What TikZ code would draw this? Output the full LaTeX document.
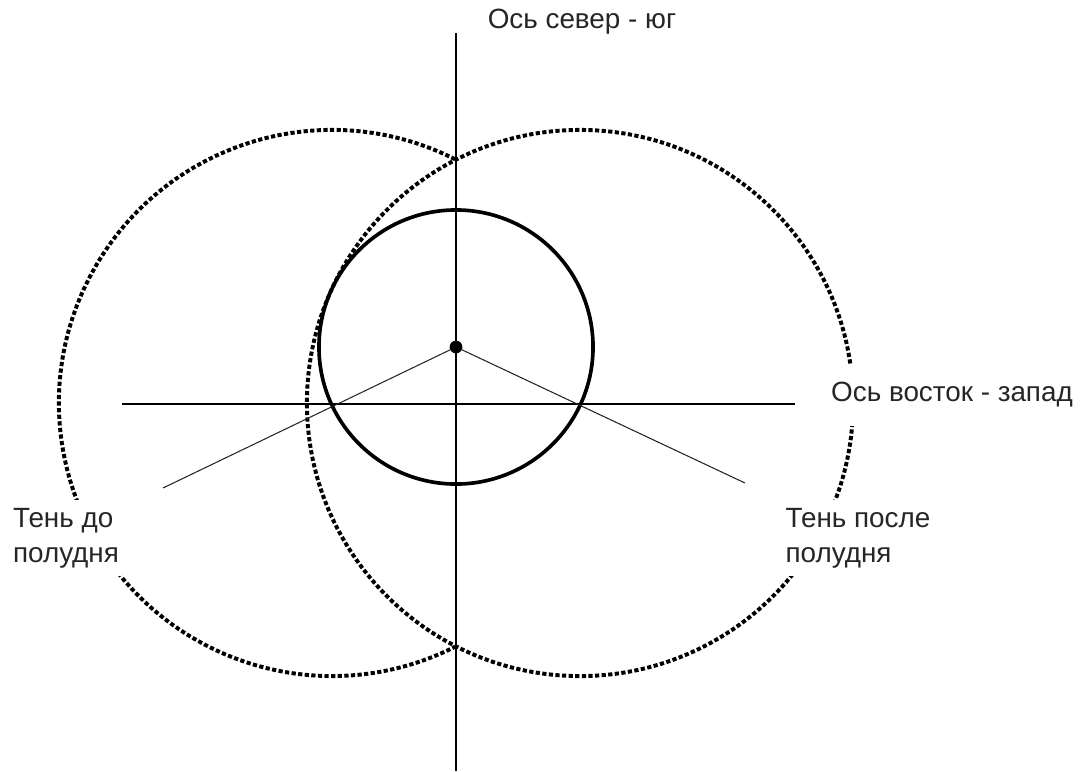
\documentclass[tikz,border=0pt]{standalone}
\usepackage{fontspec}
\setmainfont{Liberation Sans}
\usepackage{tikz}
\usetikzlibrary{positioning}

\begin{document}
\begin{tikzpicture}[
  x=0.025cm,y=-0.025cm,
  axisline/.style={line width=1.1pt,black},
  shadowline/.style={line width=0.75pt,black!85},
  dotline/.style={line width=2.8pt,dash pattern=on 3pt off 1.7pt,black},
  sunpath/.style={line width=2.6pt,black},
  lbl/.style={fill=white,text=black!85,align=left,inner xsep=2pt,inner ysep=6pt,font=\fontsize{19.8pt}{25pt}\selectfont}
]
\useasboundingbox (0,0) rectangle (1082,771);
\coordinate (ntop) at (456,33);
\coordinate (sbot) at (456,771);
\coordinate (wend) at (122,404);
\coordinate (eend) at (795,404);
\coordinate (amc) at (332,403);
\coordinate (pmc) at (580,403);
\coordinate (amtip) at (163,488);
\coordinate (pmtip) at (745,483);
\node[circle,fill=black,inner sep=0pt,minimum size=0.32cm] (gnomon) at (456,347) {};
\draw[axisline] (ntop) -- (sbot);
\draw[axisline] (wend) -- (eend);
\draw[sunpath] (gnomon.center) circle [radius=3.425cm];
\draw[dotline] ([shift={(63.2:6.825cm)}]amc) arc [start angle=63.2,end angle=296.8,radius=6.825cm];
\draw[dotline] (pmc) circle [radius=6.825cm];
\draw[shadowline] (gnomon) -- (amtip);
\draw[shadowline] (gnomon) -- (pmtip);
\node[lbl] (nsaxis) at (582,22) {Ось север - юг};
\node[lbl,inner ysep=0.45cm] (ewaxis) at (952,395) {Ось восток - запад};
\node[lbl] (amshadow) at (66,538) {Тень до\\полудня};
\node[lbl] (pmshadow) at (858,538) {Тень после\\полудня};
\end{tikzpicture}
\end{document}
